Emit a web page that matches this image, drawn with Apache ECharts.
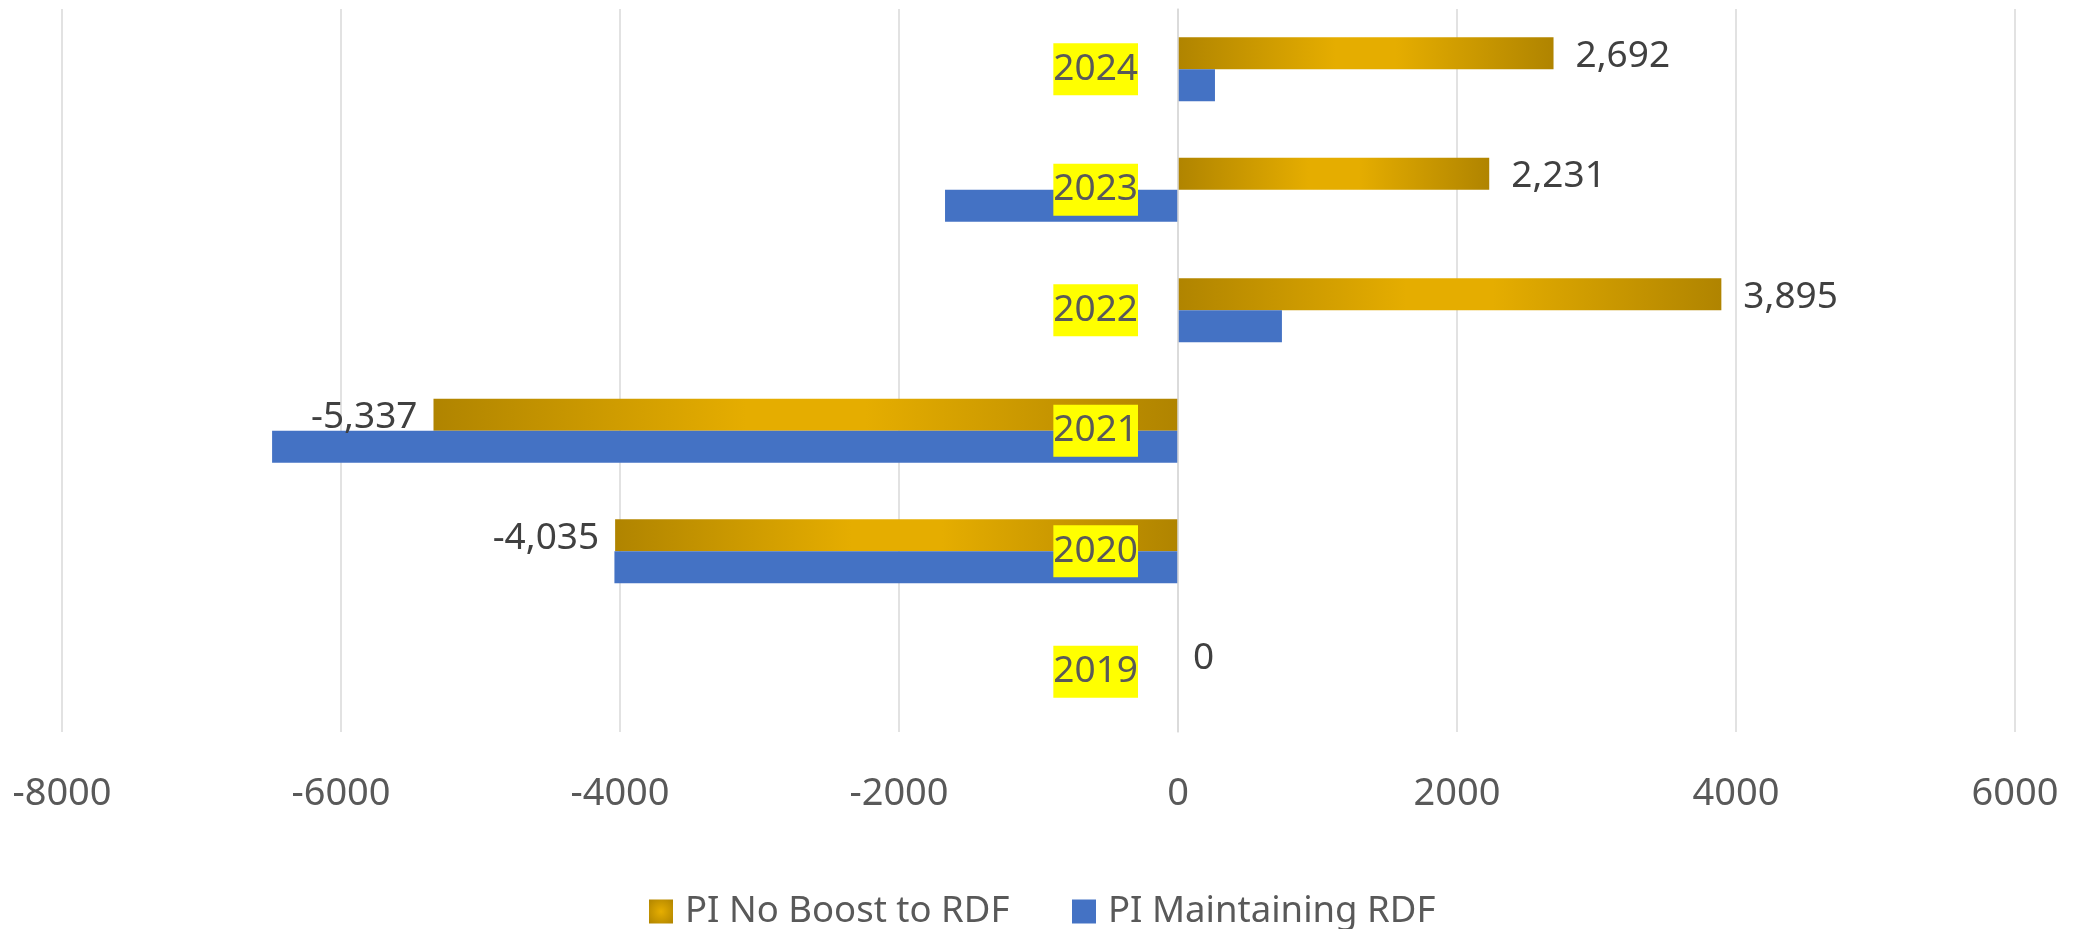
<!DOCTYPE html>
<html>
<head>
<meta charset="utf-8">
<script src="https://cdn.jsdelivr.net/npm/echarts@6/dist/echarts.min.js"></script>
<style>
  html, body { margin: 0; padding: 0; background: #fff; }
  #chart { width: 2077px; height: 929px; }
</style>
</head>
<body>
<div id="chart"></div>
<script>
const years = ['2019', '2020', '2021', '2022', '2023', '2024'];
const noBoost = [0, -4035, -5337, 3895, 2231, 2692];
const maintaining = [0, -4040, -6494, 745, -1670, 265];
const xTicks = { min: -8000, max: 6000, interval: 2000 };

const FONT = 'Noto Sans';
const GRID = { left: 62, right: 62, top: 9, bottom: 197 };

// Gold bar fill: dark at both ends, bright in the middle
const goldFill = new echarts.graphic.LinearGradient(0, 0, 1, 0, [
  { offset: 0, color: '#b08400' },
  { offset: 0.42, color: '#e5ad00' },
  { offset: 0.58, color: '#e5ad00' },
  { offset: 1, color: '#b08400' }
]);
const goldIcon = new echarts.graphic.RadialGradient(0.5, 0.5, 0.7, [
  { offset: 0, color: '#e6ae00' },
  { offset: 1, color: '#b08400' }
]);

const chart = echarts.init(document.getElementById('chart'));

// put the category axis on x = 0 (onZero doesn't move it here)
const plotWidth = 2077 - GRID.left - GRID.right;
const zeroOffset = -plotWidth * (0 - xTicks.min) / (xTicks.max - xTicks.min);

const goldData = noBoost.map(v => ({
  value: v,
  label: {
    position: v < 0 ? 'left' : 'right',
    distance: v < 0 ? 16 : (v === 0 ? 15 : 22)
  }
}));

const legendText = { fontFamily: FONT, fontSize: 36.5, color: '#595959', padding: [0, 0, 0, 7] };

chart.setOption({
  backgroundColor: '#ffffff',
  animation: false,
  grid: Object.assign({ outerBoundsMode: 'none' }, GRID),
  legend: [
    {
      left: 649, top: 893, padding: 0,
      itemWidth: 24, itemHeight: 24,
      icon: 'rect',
      data: [{ name: 'PI No Boost to RDF', itemStyle: { color: goldIcon } }],
      textStyle: legendText
    },
    {
      left: 1072, top: 893, padding: 0,
      itemWidth: 24, itemHeight: 24,
      icon: 'rect',
      data: ['PI Maintaining RDF'],
      textStyle: legendText
    }
  ],
  xAxis: {
    type: 'value',
    min: xTicks.min,
    max: xTicks.max,
    interval: xTicks.interval,
    axisLine: { show: false },
    axisTick: { show: false },
    axisLabel: {
      fontFamily: FONT, fontSize: 38, color: '#595959', margin: 43,
      formatter: v => String(v)
    },
    splitLine: { lineStyle: { color: '#d9d9d9', width: 1.5 } }
  },
  yAxis: {
    type: 'category',
    data: years,
    z: 5,
    offset: zeroOffset,
    axisLine: { show: true, onZero: false, lineStyle: { color: '#d9d9d9', width: 1.5 } },
    axisTick: { show: false },
    axisLabel: {
      fontFamily: FONT,
      fontSize: 37,
      color: '#595959',
      backgroundColor: '#ffff00',
      lineHeight: 52,
      padding: [0, 0, 0, 0],
      margin: 40
    }
  },
  series: [
    {
      name: 'PI No Boost to RDF',
      type: 'bar',
      data: goldData,
      barWidth: 32,
      barGap: '0%',
      itemStyle: { color: goldFill },
      label: {
        show: true,
        fontFamily: FONT,
        fontSize: 37,
        color: '#404040',
        offset: [0, 3],
        formatter: p => p.value.toLocaleString('en-US')
      }
    },
    {
      name: 'PI Maintaining RDF',
      type: 'bar',
      data: maintaining,
      barWidth: 32,
      barGap: '0%',
      itemStyle: { color: '#4472c4' }
    }
  ]
});
</script>
</body>
</html>
